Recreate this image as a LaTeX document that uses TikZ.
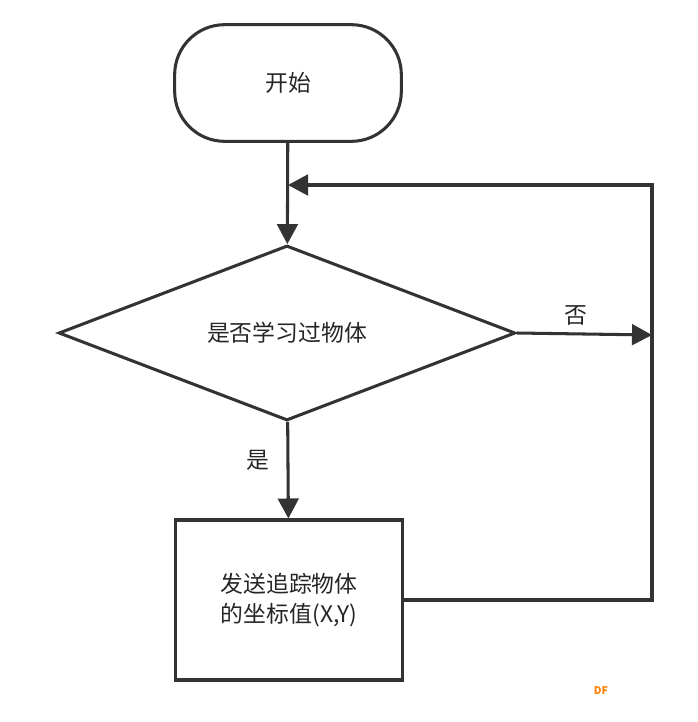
\documentclass[tikz,border=0pt]{standalone}
\usepackage{fontspec}
\setmainfont{Noto Sans CJK SC}
\usetikzlibrary{shapes.geometric,arrows.meta}
\begin{document}
\begin{tikzpicture}[x=0.03cm,y=-0.03cm,line width=2.6pt,
  every node/.style={font=\fontsize{19.5}{26}\selectfont,text=black!85},
  flow/.style={draw=black!80,-{Triangle[length=0.6cm,width=0.62cm]}},
  box/.style={draw=black!80,align=center}]
\useasboundingbox (0,0) rectangle (698,722);

\node[box,rounded corners=1.5cm,minimum width=6.8cm,minimum height=3.5cm] (start) at (288,83)  {开始};
\node[box,diamond,aspect=2.6,minimum width=13.7cm,minimum height=5.25cm,inner sep=0pt] (ask) at (287,333) {是否学习过物体};
\node[box,minimum width=6.8cm,minimum height=4.8cm] (send) at (289,600) {发送追踪物体\\的坐标值(X,Y)};

\coordinate (join) at (288,185);
\coordinate (side) at (652,335);

\draw[flow] (start) -- (ask);
\draw[flow] (ask) -- node[left=0.4cm,pos=0.4] {是} (send);
\draw[flow] (ask.east) -- node[above=0.1cm,pos=0.44] {否} (side);
\draw[flow] (send.east) -- (652,600) |- (join);

\node[font=\bfseries\fontsize{9}{10}\selectfont,text=orange] (mark) at (601,691) {DF};
\end{tikzpicture}
\end{document}
